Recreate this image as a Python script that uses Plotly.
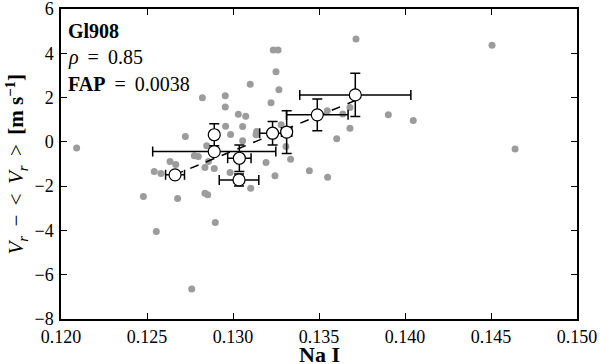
import plotly.graph_objects as go

# Gray individual measurements
gray_x = [0.12091, 0.13234, 0.13262, 0.1325, 0.1310, 0.13267, 0.12822, 0.12955, 0.13221, 0.12955,
          0.13031, 0.13074, 0.12723, 0.12957, 0.13056, 0.12986, 0.13138, 0.13056, 0.1328, 0.12847,
          0.13308, 0.12634, 0.12667, 0.12775, 0.12798, 0.12857, 0.13192, 0.13335, 0.12542, 0.12581,
          0.12837, 0.12891, 0.12983, 0.13244, 0.13444, 0.1355, 0.13103, 0.12479, 0.12678, 0.12837,
          0.12853, 0.12897, 0.12554, 0.1276, 0.13715, 0.14506, 0.13903, 0.14048, 0.1368, 0.13603,
          0.14640, 0.13548, 0.13638, 0.1368, 0.13134]
gray_y = [-0.28, 4.15, 4.15, 3.17, 2.60, 2.35, 1.99, 2.08, 1.77, 1.57,
          1.25, 1.16, 0.24, 0.71, 0.69, 0.33, 0.47, 0.05, 0.77, -0.18,
          -0.21, -0.89, -1.02, -0.63, -0.66, -0.89, -0.93, -0.78, -1.34, -1.43,
          -1.16, -1.20, -1.38, -1.53, -1.31, -1.60, -2.09, -2.47, -2.56, -2.32,
          -2.39, -3.64, -4.05, -6.64, 4.65, 4.36, 1.22, 0.96, 0.62, 0.14,
          -0.32, 1.41, 1.26, 1.55, 0.32]

# Binned averages with error bars
bin_x = [0.12663, 0.12891, 0.12891, 0.13037, 0.13035, 0.1323, 0.13312, 0.1349, 0.13711]
bin_y = [-1.49, 0.32, -0.44, -0.74, -1.72, 0.39, 0.44, 1.22, 2.12]
bin_xerr = [0.00055, 0.0002, 0.00358, 0.00068, 0.00115, 0.00075, 0.0003, 0.00179, 0.00323]
bin_yerr = [0.1, 0.5, 0.15, 0.6, 0.27, 0.53, 0.97, 0.72, 0.98]

# Linear fit (dashed)
fit_x = [0.1266, 0.1371]
fit_y = [-1.49, 1.86]

x_ticks = [0.120, 0.125, 0.130, 0.135, 0.140, 0.145, 0.150]
y_ticks = [-8, -6, -4, -2, 0, 2, 4, 6]

FONT = "Liberation Serif"
NB = "\u00a0"
TH = "\u2009"
EQ = f"{NB}{TH}={TH}{NB}"
G = f"{NB}{TH}"

fig = go.Figure()
fig.add_trace(go.Scatter(x=gray_x, y=gray_y, mode="markers",
                         marker=dict(size=7, color="#9c9c9c", line=dict(width=0)),
                         showlegend=False, hoverinfo="skip"))
fig.add_trace(go.Scatter(x=fit_x, y=fit_y, mode="lines",
                         line=dict(color="black", width=1.5, dash="9px,8px"),
                         showlegend=False))
fig.add_trace(go.Scatter(x=bin_x, y=bin_y, mode="markers",
                         marker=dict(size=12, color="white", line=dict(color="black", width=1.2)),
                         error_x=dict(type="data", array=bin_xerr, visible=True,
                                      color="black", thickness=1.5, width=5),
                         error_y=dict(type="data", array=bin_yerr, visible=True,
                                      color="black", thickness=1.5, width=5),
                         showlegend=False))

axis_common = dict(showline=True, linecolor="black", linewidth=1.5, mirror="ticks",
                   ticks="inside", ticklen=6, tickwidth=1.2, tickcolor="black",
                   showgrid=False, zeroline=False, automargin=False,
                   ticklabeloverflow="allow",
                   tickfont=dict(family=FONT, size=18, color="black"))

ann_font = dict(family=FONT, size=20, color="black")
ylabel = (f"<i>V<sub>r</sub></i>{G}−{G}<{G}<i>V<sub>r</sub></i>{G}>{G}"
          f"<b>[m{NB}s<sup>−1</sup>]</b>")

fig.update_layout(
    width=600, height=364,
    margin=dict(l=61, r=23, t=9, b=45),
    paper_bgcolor="white", plot_bgcolor="white",
    xaxis=dict(range=[0.12, 0.15], tickvals=x_ticks, tickformat=".3f",
               ticklabelstandoff=1, **axis_common),
    yaxis=dict(range=[-8, 6], tickvals=y_ticks, ticklabelstandoff=2, **axis_common),
    annotations=[
        dict(text="<b>Gl908</b>", x=0.01, y=0.93, xref="paper", yref="paper",
             xanchor="left", yanchor="middle", showarrow=False, font=ann_font),
        dict(text=f"<i>ρ</i>{EQ}0.85", x=0.01, y=0.845, xref="paper", yref="paper",
             xanchor="left", yanchor="middle", showarrow=False, font=ann_font),
        dict(text=f"<b>FAP</b>{EQ}0.0038", x=0.01, y=0.758, xref="paper", yref="paper",
             xanchor="left", yanchor="middle", showarrow=False, font=ann_font),
        dict(text="<b>Na I</b>", x=0.5, y=-0.113, xref="paper", yref="paper",
             xanchor="center", yanchor="middle", showarrow=False,
             font=dict(family=FONT, size=22, color="black")),
        dict(text=ylabel, x=-0.088, y=0.50, xref="paper", yref="paper", textangle=-90,
             xanchor="center", yanchor="middle", showarrow=False,
             font=dict(family=FONT, size=21, color="black")),
    ],
)

fig.write_html("out.html", config={"displayModeBar": False},
               post_script="document.body.style.margin='0';document.body.style.overflow='hidden';")
